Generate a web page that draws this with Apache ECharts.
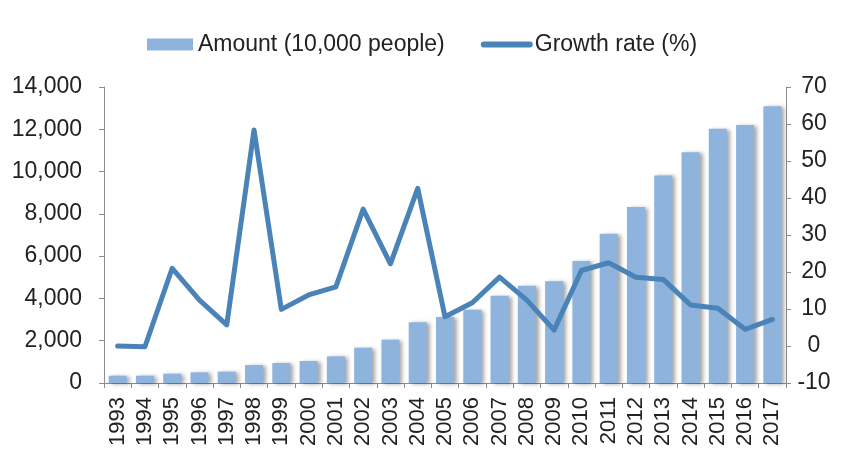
<!DOCTYPE html>
<html>
<head>
<meta charset="utf-8">
<script src="https://cdn.jsdelivr.net/npm/echarts@6/dist/echarts.min.js"></script>
<style>html,body{margin:0;padding:0;background:#fff}#c{width:841px;height:450px}</style>
</head>
<body>
<div id="c"></div>
<script>
var years = ['1993','1994','1995','1996','1997','1998','1999','2000','2001','2002','2003','2004','2005','2006','2007','2008','2009','2010','2011','2012','2013','2014','2015','2016','2017'];
var amount = [345, 345, 440, 505, 535, 850, 945, 1040, 1260, 1670, 2050, 2870, 3120, 3470, 4130, 4600, 4810, 5770, 7060, 8330, 9820, 10910, 12030, 12200, 13090];
var growth = [0, -0.2, 21, 12.4, 5.7, 58.4, 9.9, 13.8, 16, 37, 22.2, 42.6, 7.9, 11.7, 18.6, 12.4, 4.3, 20.4, 22.5, 18.6, 18, 11.1, 10.2, 4.5, 7.2];
var leftTicks = {min: 0, max: 14000, interval: 2000};
var rightTicks = {min: -10, max: 70, interval: 10};

var font = 'Liberation Sans, Arial, sans-serif';
var barColor = '#8eb4de';
var lineColor = '#4a83b7';
var chart = echarts.init(document.getElementById('c'), null, {renderer: 'canvas'});
chart.setOption({
  animation: false,
  backgroundColor: '#fff',
  textStyle: {fontFamily: font},
  legend: {
    top: 28,
    left: 136,
    itemGap: 36,
    itemWidth: 52,
    itemHeight: 12,
    textStyle: {fontFamily: font, fontSize: 23, color: '#222'},
    data: [
      {name: 'Amount (10,000 people)',
       icon: 'path://M0,0L0.01,0L0,0.01Z M6,0 L52,0 L52,12 L6,12 Z',
       itemStyle: {color: barColor, shadowBlur: 0, shadowOffsetX: 0, shadowOffsetY: 0, shadowColor: 'transparent'}},
      {name: 'Growth rate (%)',
       icon: 'path://M0,0L0.01,0L0,0.01Z M0,12L0.01,12L0,11.99Z M3,3 L49,3 A3,3 0 0 1 49,9 L3,9 A3,3 0 0 1 3,3 Z',
       itemStyle: {color: lineColor},
       textStyle: {padding: [0, 0, 0, -3]}}
    ]
  },
  grid: {left: 104, right: 55, top: 87, bottom: 67, containLabel: false},
  xAxis: {
    type: 'category',
    data: years,
    axisLine: {lineStyle: {color: '#8c8c8c', width: 1}},
    axisTick: {show: true, length: 5, lineStyle: {color: '#8c8c8c'}},
    axisLabel: {rotate: 90, interval: 0, fontSize: 22, lineHeight: 22, color: '#222', margin: 14, fontFamily: font}
  },
  yAxis: [
    {
      type: 'value', min: leftTicks.min, max: leftTicks.max, interval: leftTicks.interval,
      axisLine: {show: true, lineStyle: {color: '#8c8c8c'}},
      axisTick: {show: true, length: 5, lineStyle: {color: '#8c8c8c'}},
      splitLine: {show: false},
      axisLabel: {fontSize: 23, color: '#222', margin: 22, fontFamily: font,
        formatter: function (v) { return v.toLocaleString('en-US'); }}
    },
    {
      type: 'value', position: 'right', min: rightTicks.min, max: rightTicks.max, interval: rightTicks.interval,
      axisLine: {show: true, lineStyle: {color: '#8c8c8c'}},
      axisTick: {show: true, length: 5, lineStyle: {color: '#8c8c8c'}},
      splitLine: {show: false},
      axisLabel: {fontSize: 23, color: '#222', margin: 28, align: 'center', fontFamily: font}
    }
  ],
  series: [
    {
      name: 'Amount (10,000 people)',
      type: 'bar',
      data: amount,
      yAxisIndex: 0,
      barCategoryGap: '34%',
      itemStyle: {color: barColor, shadowColor: 'rgba(0,0,0,0.35)', shadowBlur: 4, shadowOffsetX: 3, shadowOffsetY: 1}
    },
    {
      name: 'Growth rate (%)',
      type: 'line',
      data: growth,
      yAxisIndex: 1,
      symbol: 'none',
      lineStyle: {color: lineColor, width: 5, cap: 'round', join: 'round'},
      itemStyle: {color: lineColor}
    }
  ]
});
</script>
</body>
</html>
